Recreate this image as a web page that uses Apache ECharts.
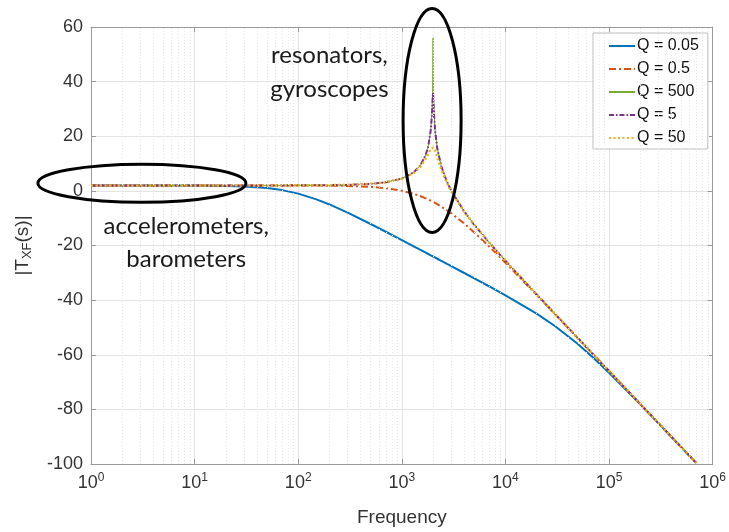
<!DOCTYPE html>
<html>
<head>
<meta charset="utf-8">
<style>
  html, body { margin: 0; padding: 0; background: #fff; }
  #chart { width: 729px; height: 532px; }
</style>
<script src="https://cdn.jsdelivr.net/npm/echarts@6/dist/echarts.min.js"></script>
</head>
<body>
<div id="chart"></div>
<script>
// Frequency sample points (Hz)
const freq = [1, 3, 10, 20, 30, 50, 70, 100, 150, 200, 300, 500, 700, 1000, 1300, 1500, 1700, 1800, 1900, 1950, 1980, 2000, 2020, 2050, 2100, 2200, 2400, 2700, 3000, 4000, 5000, 7000, 10000, 20000, 30000, 50000, 70000, 100000, 200000, 300000, 500000, 700000];

// Magnitude (dB) of each curve at those frequencies
const magQ005 = [2.0, 2.0, 1.96, 1.83, 1.63, 1.04, 0.28, -1.0, -3.10, -4.97, -7.98, -12.13, -14.97, -18.02, -20.29, -21.53, -22.61, -23.11, -23.58, -23.80, -23.93, -24.02, -24.11, -24.24, -24.44, -24.85, -25.61, -26.63, -27.55, -30.07, -32.03, -35.01, -38.24, -44.97, -49.47, -56.06, -60.98, -66.6, -78.17, -85.12, -93.95, -99.78];
const magQ05 = [2.0, 2.0, 2.0, 2.0, 2.0, 1.99, 1.99, 1.98, 1.95, 1.91, 1.81, 1.47, 1.0, 0.06, -1.06, -1.88, -2.72, -3.15, -3.59, -3.80, -3.93, -4.02, -4.11, -4.24, -4.45, -4.89, -5.75, -7.01, -8.24, -11.98, -15.21, -20.44, -26.30, -38.09, -45.08, -53.93, -59.77, -65.96, -78.0, -85.04, -93.92, -99.76];
const magQ500 = [2.0, 2.0, 2.0, 2.0, 2.0, 2.01, 2.01, 2.02, 2.05, 2.09, 2.20, 2.56, 3.14, 4.50, 6.77, 9.18, 13.13, 16.42, 22.22, 28.12, 35.98, 55.98, 35.89, 27.91, 21.78, 15.55, 9.13, 3.70, 0.06, -7.54, -12.40, -19.02, -25.60, -37.91, -45.0, -53.90, -59.76, -65.96, -78.0, -85.04, -93.92, -99.76];
const magQ5 = [2.0, 2.0, 2.0, 2.0, 2.0, 2.01, 2.01, 2.02, 2.05, 2.09, 2.20, 2.56, 3.14, 4.50, 6.77, 9.18, 13.12, 16.39, 22.06, 27.50, 33.03, 35.98, 32.90, 27.25, 21.61, 15.51, 9.12, 3.69, 0.06, -7.54, -12.40, -19.02, -25.60, -37.91, -45.0, -53.90, -59.76, -65.96, -78.0, -85.04, -93.92, -99.76];
const magQ50 = [2.0, 2.0, 2.0, 2.0, 2.0, 2.01, 2.01, 2.02, 2.05, 2.09, 2.20, 2.55, 3.11, 4.42, 6.55, 8.70, 11.75, 13.64, 15.41, 15.93, 16.02, 15.98, 15.85, 15.51, 14.63, 12.34, 8.00, 3.25, -0.18, -7.62, -12.44, -19.04, -25.61, -37.91, -45.0, -53.90, -59.76, -65.96, -78.0, -85.04, -93.92, -99.76];

const seriesNames = ['Q = 0.05', 'Q = 0.5', 'Q = 500', 'Q = 5', 'Q = 50'];

const AXIS_FONT = '"Liberation Sans", Arial, sans-serif';
const NOTE_FONT = 'Lato, "Open Sans", sans-serif';
const AXIS_GREY = '#9a9a9a';
const TEXT_GREY = '#333333';

const pairs = (ys) => freq.map((f, i) => [f, ys[i]]);

// dotted minor grid at 2..9 of each decade
const minorLines = [];
for (let d = 0; d < 6; d++) {
  for (let m = 2; m <= 9; m++) minorLines.push({ xAxis: m * Math.pow(10, d) });
}

const chart = echarts.init(document.getElementById('chart'), null, { renderer: 'canvas' });

const supLabel = (v) => {
  const e = Math.round(Math.log10(v));
  return '{b|10}{e|' + e + '}';
};

const boxAxisLine = { show: true, onZero: false, lineStyle: { color: AXIS_GREY, width: 1 } };
const inTick = { show: true, inside: true, length: 5, lineStyle: { color: AXIS_GREY } };

chart.setOption({
  animation: false,
  backgroundColor: '#ffffff',
  grid: { left: 91, right: 15, top: 27, bottom: 66, containLabel: false },
  legend: {
    orient: 'vertical',
    left: 593,
    top: 33,
    width: 104,
    itemWidth: 26,
    itemHeight: 14,
    itemGap: 7,
    padding: [5, 9, 3, 15],
    backgroundColor: '#ffffff',
    borderColor: '#bdbdbd',
    borderWidth: 1,
    itemStyle: { opacity: 0 },
    textStyle: { fontFamily: AXIS_FONT, fontSize: 16, lineHeight: 16, color: '#111', padding: [0, 0, 0, -3] },
    data: seriesNames
  },
  xAxis: [{
    type: 'log',
    logBase: 10,
    min: 1,
    max: 1000000,
    splitNumber: 6,
    name: 'Frequency',
    nameLocation: 'middle',
    nameGap: 44,
    nameTextStyle: { fontFamily: AXIS_FONT, fontSize: 19, color: TEXT_GREY },
    axisLine: boxAxisLine,
    axisTick: inTick,
    axisLabel: {
      margin: 8,
      formatter: supLabel,
      rich: {
        b: { fontFamily: AXIS_FONT, fontSize: 18, color: TEXT_GREY },
        e: { fontFamily: AXIS_FONT, fontSize: 12, color: TEXT_GREY, padding: [0, 0, 11, 0] }
      }
    },
    splitLine: { show: true, lineStyle: { color: '#e3e3e3', width: 1 } }
  }, {
    type: 'log',
    logBase: 10,
    min: 1,
    max: 1000000,
    splitNumber: 6,
    position: 'top',
    axisLine: boxAxisLine,
    axisTick: inTick,
    axisLabel: { show: false },
    splitLine: { show: false }
  }],
  yAxis: [{
    type: 'value',
    min: -100,
    max: 60,
    interval: 20,
    name: '{n||T}{s|XF}{n|(s)|}',
    nameLocation: 'middle',
    nameGap: 57,
    nameRotate: 90,
    nameTextStyle: {
      rich: {
        n: { fontFamily: AXIS_FONT, fontSize: 19, color: TEXT_GREY },
        s: { fontFamily: AXIS_FONT, fontSize: 13, color: TEXT_GREY, padding: [10, 0, 0, 0] }
      }
    },
    axisLine: boxAxisLine,
    axisTick: inTick,
    axisLabel: { margin: 8, fontFamily: AXIS_FONT, fontSize: 18, color: TEXT_GREY },
    splitLine: { show: true, lineStyle: { color: '#e3e3e3', width: 1 } }
  }, {
    type: 'value',
    min: -100,
    max: 60,
    interval: 20,
    position: 'right',
    axisLine: boxAxisLine,
    axisTick: inTick,
    axisLabel: { show: false },
    splitLine: { show: false }
  }],
  series: [
    {
      name: '_minorGrid',
      type: 'line',
      data: [],
      silent: true,
      markLine: {
        silent: true,
        symbol: ['none', 'none'],
        label: { show: false },
        lineStyle: { color: '#e8e8e8', width: 1, type: [1, 2] },
        data: minorLines
      },
      z: 0
    },
    {
      name: seriesNames[0], type: 'line', data: pairs(magQ005), showSymbol: false, symbol: 'none',
      lineStyle: { color: '#0072BD', width: 2 }, itemStyle: { color: '#0072BD' }, z: 3
    },
    {
      name: seriesNames[1], type: 'line', data: pairs(magQ05), showSymbol: false, symbol: 'none',
      lineStyle: { color: '#D95319', width: 2, type: [7, 3, 2, 3] }, itemStyle: { color: '#D95319' }, z: 3
    },
    {
      name: seriesNames[2], type: 'line', data: pairs(magQ500), showSymbol: false, symbol: 'none',
      lineStyle: { color: '#77AC30', width: 1 }, itemStyle: { color: '#77AC30' }, z: 3
    },
    {
      name: seriesNames[3], type: 'line', data: pairs(magQ5), showSymbol: false, symbol: 'none',
      lineStyle: { color: '#7E2F8E', width: 2, type: [5, 2, 1.5, 2] }, itemStyle: { color: '#7E2F8E' }, z: 3
    },
    {
      name: seriesNames[4], type: 'line', data: pairs(magQ50), showSymbol: false, symbol: 'none',
      lineStyle: { color: '#EDB120', width: 2.5, type: [2, 2.5] }, itemStyle: { color: '#EDB120' }, z: 3
    }
  ]
});

// Annotation ellipses and captions, anchored to data coordinates
function annotate() {
  const px = (f, v) => chart.convertToPixel({ xAxisIndex: 0, yAxisIndex: 0 }, [f, v]);
  const lowC = px(3.1, 2.8);
  const resC = px(1960, 25.8);
  const lowTxt = px(8.3, -19);
  const resTxt = px(200, 43.5);
  chart.setOption({
    graphic: [
      {
        type: 'ellipse', z: 100,
        shape: { cx: lowC[0], cy: lowC[1], rx: 104, ry: 19 },
        style: { fill: 'none', stroke: '#000', lineWidth: 3 }
      },
      {
        type: 'ellipse', z: 100,
        shape: { cx: resC[0], cy: resC[1], rx: 29, ry: 112 },
        style: { fill: 'none', stroke: '#000', lineWidth: 3 }
      },
      {
        type: 'text', z: 100, x: lowTxt[0], y: lowTxt[1],
        style: {
          text: 'accelerometers,\nbarometers',
          fontFamily: NOTE_FONT, fontSize: 24, lineHeight: 33,
          fill: '#1a1a1a', align: 'center', verticalAlign: 'middle'
        }
      },
      {
        type: 'text', z: 100, x: resTxt[0], y: resTxt[1],
        style: {
          text: 'resonators,\ngyroscopes',
          fontFamily: NOTE_FONT, fontSize: 24, lineHeight: 34,
          fill: '#1a1a1a', align: 'center', verticalAlign: 'middle'
        }
      }
    ]
  });
}
annotate();
</script>
</body>
</html>
